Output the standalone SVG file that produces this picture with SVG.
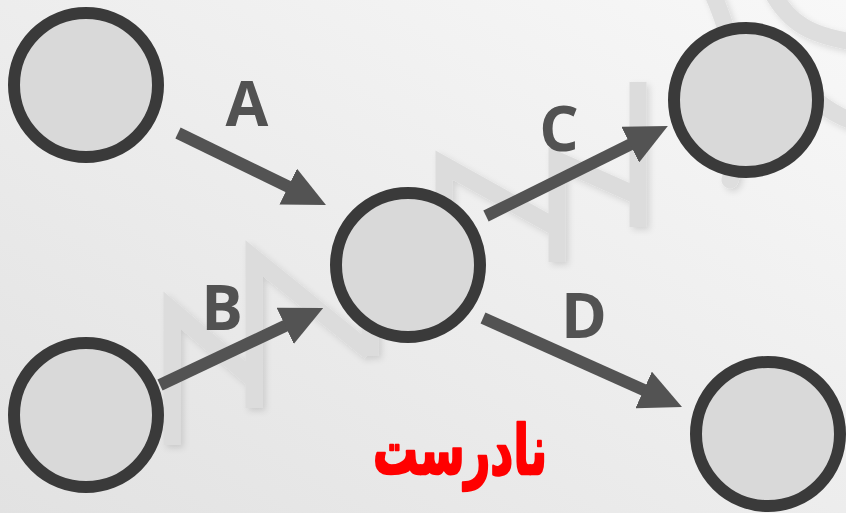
<svg xmlns="http://www.w3.org/2000/svg" width="846" height="513" viewBox="0 0 846 513">
<defs>
<linearGradient id="bg" x1="0" y1="1" x2="1" y2="0">
<stop offset="0" stop-color="#e2e2e2"/>
<stop offset="1" stop-color="#f8f8f8"/>
</linearGradient>
<filter id="sh" x="-20%" y="-20%" width="140%" height="140%">
<feDropShadow dx="3" dy="3" stdDeviation="3" flood-color="#000" flood-opacity="0.12"/>
</filter>
<marker id="ah" markerUnits="userSpaceOnUse" markerWidth="42" markerHeight="40" viewBox="0 0 42 40" refX="2" refY="20" orient="auto">
<path d="M0,0 L42,20 L0,40 z" fill="#535353"/>
</marker>
</defs>
<style>
.node{fill:#d9d9d9;stroke:#3a3a3a;stroke-width:12}
.edge{stroke:#535353;stroke-width:12;fill:none;marker-end:url(#ah)}
.lbl{font-family:"Open Sans","Liberation Sans",sans-serif;font-weight:700;font-size:62px;fill:#525252;text-anchor:middle}
.wm{fill:none;stroke:#dcdcdc;stroke-width:17;stroke-linejoin:miter}
.wmc{fill:none;stroke:#dedede;stroke-width:17;stroke-linecap:round}
.title{font-family:"DejaVu Sans",sans-serif;font-weight:700;font-size:68px;fill:#ff0000;stroke:#ff0000;stroke-width:2.5;stroke-linejoin:round;text-anchor:middle}
</style>
<rect width="846" height="513" fill="url(#bg)"/>
<g id="watermark" filter="url(#sh)">
<path class="wm" d="M172,445 L172,310 L254,380 M254,408 L254,258 L370,352 M370,356 L370,250"/>
<path class="wm" d="M444,300 L444,165 L557,228 M557,262 L557,160 L638,196 M638,227 L638,82"/>
<path class="wmc" d="M712,-8 C742,60 748,130 730,180"/>
<path class="wmc" d="M772,-8 C790,25 812,35 852,42"/>
<path class="wmc" d="M816,100 C828,110 838,116 852,121"/>
</g>
<g id="connectors">
<line class="edge" x1="178" y1="133" x2="290" y2="187.5"/>
<line class="edge" x1="160" y1="385" x2="287" y2="325"/>
<line class="edge" x1="486" y1="216" x2="632" y2="143.7"/>
<line class="edge" x1="483" y1="318" x2="645.5" y2="390.7"/>
</g>
<g id="node-tl"><circle class="node" cx="86" cy="85" r="72"/></g>
<g id="node-bl"><circle class="node" cx="86" cy="415" r="72"/></g>
<g id="node-c"><circle class="node" cx="408" cy="265" r="72"/></g>
<g id="node-tr"><circle class="node" cx="746" cy="100" r="72"/></g>
<g id="node-br"><circle class="node" cx="768" cy="434" r="72"/></g>
<g id="labels">
<text class="lbl" x="247" y="126">A</text>
<text class="lbl" x="222" y="330">B</text>
<text class="lbl" x="559" y="151">C</text>
<text class="lbl" x="584" y="338">D</text>
</g>
<text class="title" transform="translate(460,474) scale(0.66,1)" x="0" y="0" direction="rtl">نادرست</text>
</svg>
